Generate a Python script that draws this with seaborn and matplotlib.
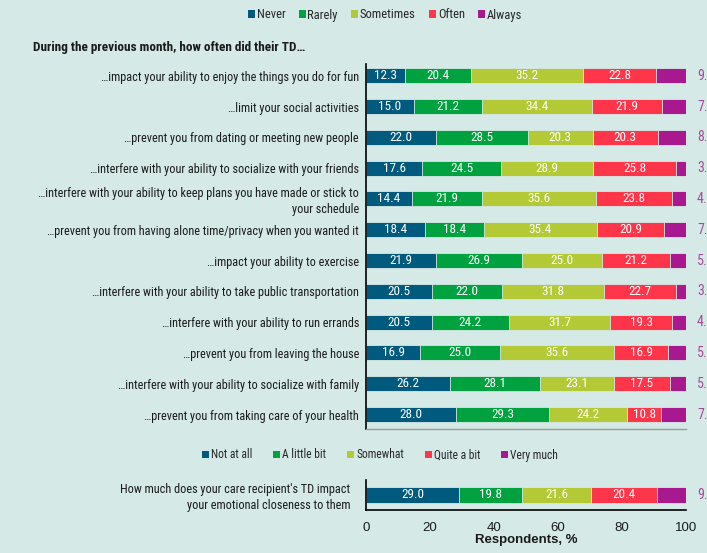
import matplotlib
matplotlib.use("Agg")
import os
import matplotlib.pyplot as plt
from matplotlib.patches import Patch
from matplotlib import font_manager as fm
import seaborn as sns
import pandas as pd
import numpy as np

# ---------------- data ----------------
questions = [
    "\u2026impact your ability to enjoy the things you do for fun",
    "\u2026limit your social activities",
    "\u2026prevent you from dating or meeting new people",
    "\u2026interfere with your ability to socialize with your friends",
    "\u2026interfere with your ability to keep plans you have made or stick to\nyour schedule",
    "\u2026prevent you from having alone time/privacy when you wanted it",
    "\u2026impact your ability to exercise",
    "\u2026interfere with your ability to take public transportation",
    "\u2026interfere with your ability to run errands",
    "\u2026prevent you from leaving the house",
    "\u2026interfere with your ability to socialize with family",
    "\u2026prevent you from taking care of your health",
]
freq_levels = ["Never", "Rarely", "Sometimes", "Often", "Always"]
never = [12.3, 15.0, 22.0, 17.6, 14.4, 18.4, 21.9, 20.5, 20.5, 16.9, 26.2, 28.0]
rarely = [20.4, 21.2, 28.5, 24.5, 21.9, 18.4, 26.9, 22.0, 24.2, 25.0, 28.1, 29.3]
sometimes = [35.2, 34.4, 20.3, 28.9, 35.6, 35.4, 25.0, 31.8, 31.7, 35.6, 23.1, 24.2]
often = [22.8, 21.9, 20.3, 25.8, 23.8, 20.9, 21.2, 22.7, 19.3, 16.9, 17.5, 10.8]
always = [9.3, 7.5, 8.9, 3.2, 4.3, 7.0, 5.0, 3.0, 4.3, 5.6, 5.1, 7.7]

question2 = ["How much does your care recipient's TD impact\nyour emotional closeness to them"]
impact_levels = ["Not at all", "A little bit", "Somewhat", "Quite a bit", "Very much"]
not_at_all = [29.0]
a_little_bit = [19.8]
somewhat = [21.6]
quite_a_bit = [20.4]
very_much = [9.3]

title_text = "During the previous month, how often did their TD\u2026"
xticks = [0, 20, 40, 60, 80, 100]
xlabel_text = "Respondents, %"

# ---------------- style ----------------
colors = ["#005a7d", "#00a13f", "#b3ca36", "#ff354a", "#a8198f"]
bg = "#d5eae7"
last_label_color = "#a8479c"

sns.set_theme(style="white")
plt.rcParams["font.family"] = ["Liberation Sans", "DejaVu Sans"]


def find_font(keys):
    files = [f.fname for f in fm.fontManager.ttflist]
    for k in keys:
        for fn in files:
            if os.path.basename(fn).lower() == k:
                return fn
    return None


reg_file = find_font(["liberationsansnarrow-regular.ttf", "robotocondensed-regular.ttf",
                      "dejavusanscondensed.ttf"])
bold_file = find_font(["liberationsansnarrow-bold.ttf", "robotocondensed-bold.ttf",
                       "dejavusanscondensed-bold.ttf"])
CONDENSED = reg_file is not None


def fp_reg(size):
    if CONDENSED:
        return fm.FontProperties(fname=reg_file, size=size)
    return fm.FontProperties(family="Liberation Sans", size=size * 0.84)


def fp_bold(size):
    if bold_file is not None:
        return fm.FontProperties(fname=bold_file, size=size)
    return fm.FontProperties(family="Liberation Sans", weight="bold", size=size * 0.86)


W, H = 707, 553
fig = plt.figure(figsize=(W / 100, H / 100), dpi=100, facecolor=bg)


def stacked(ax, cats, series, width):
    df = pd.DataFrame({"q": cats})
    cums = np.cumsum(np.array(series, dtype=float), axis=0)
    for k in range(len(series) - 1, -1, -1):
        df["v"] = cums[k]
        sns.barplot(data=df, y="q", x="v", orient="h", color=colors[k],
                    saturation=1, width=width, ax=ax, edgecolor=bg,
                    linewidth=0.6, order=cats)
    n = len(series)
    for i in range(len(cats)):
        for k in range(n):
            val = series[k][i]
            mid = cums[k][i] - val / 2
            if k < n - 1:
                ax.text(mid, i, f"{val:.1f}", ha="center", va="center",
                        color="white", fontproperties=fp_reg(9.5))
            else:
                ax.annotate(f"{val:.1f}", xy=(cums[k][i], i), xytext=(8, 0),
                            textcoords="offset points", ha="left", va="center",
                            color=last_label_color, fontproperties=fp_reg(10),
                            annotation_clip=False)
    ax.set_xlim(0, 100)
    ax.set_facecolor(bg)
    ax.set_xlabel("")
    ax.set_ylabel("")


# top axes
ax1 = fig.add_axes([366 / W, 1 - 429 / H, 320 / W, (429 - 64) / H])
stacked(ax1, questions, [never, rarely, sometimes, often, always], 0.49)
ax1.set_ylim(11.47, -0.38)
for s in ["top", "right"]:
    ax1.spines[s].set_visible(False)
ax1.spines["left"].set_color("black")
ax1.spines["left"].set_linewidth(1.2)
ax1.spines["bottom"].set_color("#9a9a9a")
ax1.spines["bottom"].set_linewidth(1.0)
ax1.set_xticks(xticks)
ax1.tick_params(axis="x", length=2, color="#9a9a9a", labelbottom=False, direction="out")
ax1.tick_params(axis="y", length=0, pad=5)
for t in ax1.get_yticklabels():
    t.set_fontproperties(fp_reg(8.85))
    t.set_color("#1a1a1a")
    t.set_linespacing(1.28)

# bottom axes
ax2 = fig.add_axes([366 / W, 1 - 510 / H, 320 / W, 30 / H])
stacked(ax2, question2, [not_at_all, a_little_bit, somewhat, quite_a_bit, very_much], 0.53)
ax2.set_ylim(0.5, -0.5)
for s in ["top", "right"]:
    ax2.spines[s].set_visible(False)
for s in ["left", "bottom"]:
    ax2.spines[s].set_color("black")
    ax2.spines[s].set_linewidth(1.2)
ax2.set_xticks(xticks)
ax2.set_xticklabels([str(x) for x in xticks])
ax2.tick_params(axis="x", direction="in", length=6, width=1, color="black",
                labelsize=9.5, pad=8.5, labelcolor="#1a1a1a")
ax2.tick_params(axis="y", length=0, pad=11.5)
for t in ax2.get_yticklabels():
    t.set_fontproperties(fp_reg(8.8))
    t.set_color("#1a1a1a")
    t.set_linespacing(1.25)
ax2.set_xlabel(xlabel_text, fontsize=9.5, fontweight="bold", labelpad=0, color="#1a1a1a")

# title
fig.text(33 / W, 1 - 48 / H, title_text, ha="left", va="center",
         fontproperties=fp_bold(9.5), color="#1a1a1a")

# legends
h1 = [Patch(facecolor=c, edgecolor="none") for c in colors]
leg_fp1 = fp_reg(9.0)
leg_fp2 = fp_reg(8.3)
px1 = leg_fp1.get_size_in_points() * 100 / 72
px2 = leg_fp2.get_size_in_points() * 100 / 72
fig.legend(h1, freq_levels, loc="center", bbox_to_anchor=(385 / W, 1 - 15 / H),
           ncol=5, frameon=False, prop=leg_fp1,
           handlelength=7 / px1, handleheight=7 / px1, handletextpad=2 / px1,
           columnspacing=13 / px1, borderaxespad=0)
fig.legend(h1, impact_levels, loc="center", bbox_to_anchor=(380 / W, 1 - 455 / H),
           ncol=5, frameon=False, prop=leg_fp2,
           handlelength=7 / px2, handleheight=7 / px2, handletextpad=2 / px2,
           columnspacing=21 / px2, borderaxespad=0)

fig.savefig("out.png", dpi=100, facecolor=bg)
